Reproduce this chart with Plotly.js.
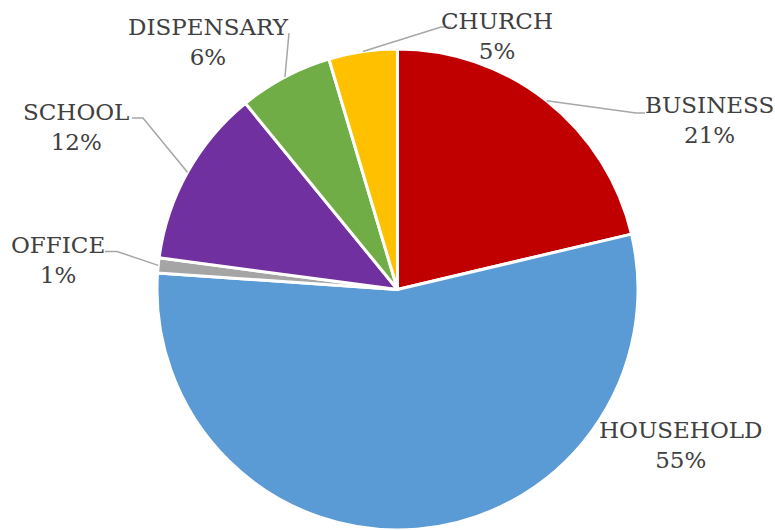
<!DOCTYPE html>
<html>
<head>
<meta charset="utf-8">
<script src="https://cdn.plot.ly/plotly-3.0.1.min.js"></script>
<style>html,body{margin:0;padding:0;background:#fff;}#chart{width:775px;height:530px;}</style>
</head>
<body>
<div id="chart"></div>
<script>
// ---- data ----
var categories = ["BUSINESS", "HOUSEHOLD", "OFFICE", "SCHOOL", "DISPENSARY", "CHURCH"];
var shares = [21.3, 54.8, 1.0, 12.0, 6.3, 4.6];
var colors = ["#C00000", "#5B9BD5", "#A5A5A5", "#7030A0", "#70AD47", "#FFC000"];

// ---- layout constants (pixels) ----
var W = 775, H = 530;
var cx = 397.5, cy = 289.5, R = 240.5;
// label text centres and leader-line elbows/ends (pixels)
var labelCenter = [[709, 120], [680, 445], [58, 260], [76, 127], [208, 42], [497, 36]];
var leaderElbow = [[636, 113], null, [117, 251.5], [143, 118], [289, 33], [441, 27]];
var leaderEnd   = [[645, 113], null, [105, 251.5], [132, 118], [289, 33], [451, 27]];

function px2x(p) { return p / W; }
function px2y(p) { return 1 - p / H; }

var total = shares.reduce(function (a, b) { return a + b; }, 0);
var annotations = [];
var shapes = [];
var acc = 0;
for (var i = 0; i < categories.length; i++) {
  var frac = shares[i] / total;
  var mid = (acc + frac / 2) * 2 * Math.PI; // clockwise from 12 o'clock
  acc += frac;
  var ex = cx + R * Math.sin(mid);
  var ey = cy - R * Math.cos(mid);
  annotations.push({
    xref: "paper", yref: "paper",
    x: px2x(labelCenter[i][0]), y: px2y(labelCenter[i][1]),
    xanchor: "center", yanchor: "middle",
    text: categories[i] + "<br>" + Math.round(frac * 100) + "%",
    showarrow: false,
    font: { family: "'DejaVu Serif', serif", size: 23, color: "#404040" }
  });
  if (leaderElbow[i]) {
    shapes.push({
      type: "path", xref: "paper", yref: "paper",
      path: "M" + px2x(ex) + "," + px2y(ey) +
            " L" + px2x(leaderElbow[i][0]) + "," + px2y(leaderElbow[i][1]) +
            " L" + px2x(leaderEnd[i][0]) + "," + px2y(leaderEnd[i][1]),
      line: { color: "#A6A6A6", width: 1.5 }
    });
  }
}

var trace = {
  type: "pie",
  labels: categories,
  values: shares,
  sort: false,
  direction: "clockwise",
  rotation: 0,
  textinfo: "none",
  hoverinfo: "label+percent",
  marker: { colors: colors, line: { color: "#FFFFFF", width: 3 } },
  domain: { x: [px2x(cx - R), px2x(cx + R)], y: [px2y(cy + R), px2y(cy - R)] },
  showlegend: false
};

var layout = {
  width: W, height: H,
  margin: { l: 0, r: 0, t: 0, b: 0 },
  paper_bgcolor: "#FFFFFF",
  showlegend: false,
  annotations: annotations,
  shapes: shapes
};

Plotly.newPlot("chart", [trace], layout, { staticPlot: true });
</script>
</body>
</html>
